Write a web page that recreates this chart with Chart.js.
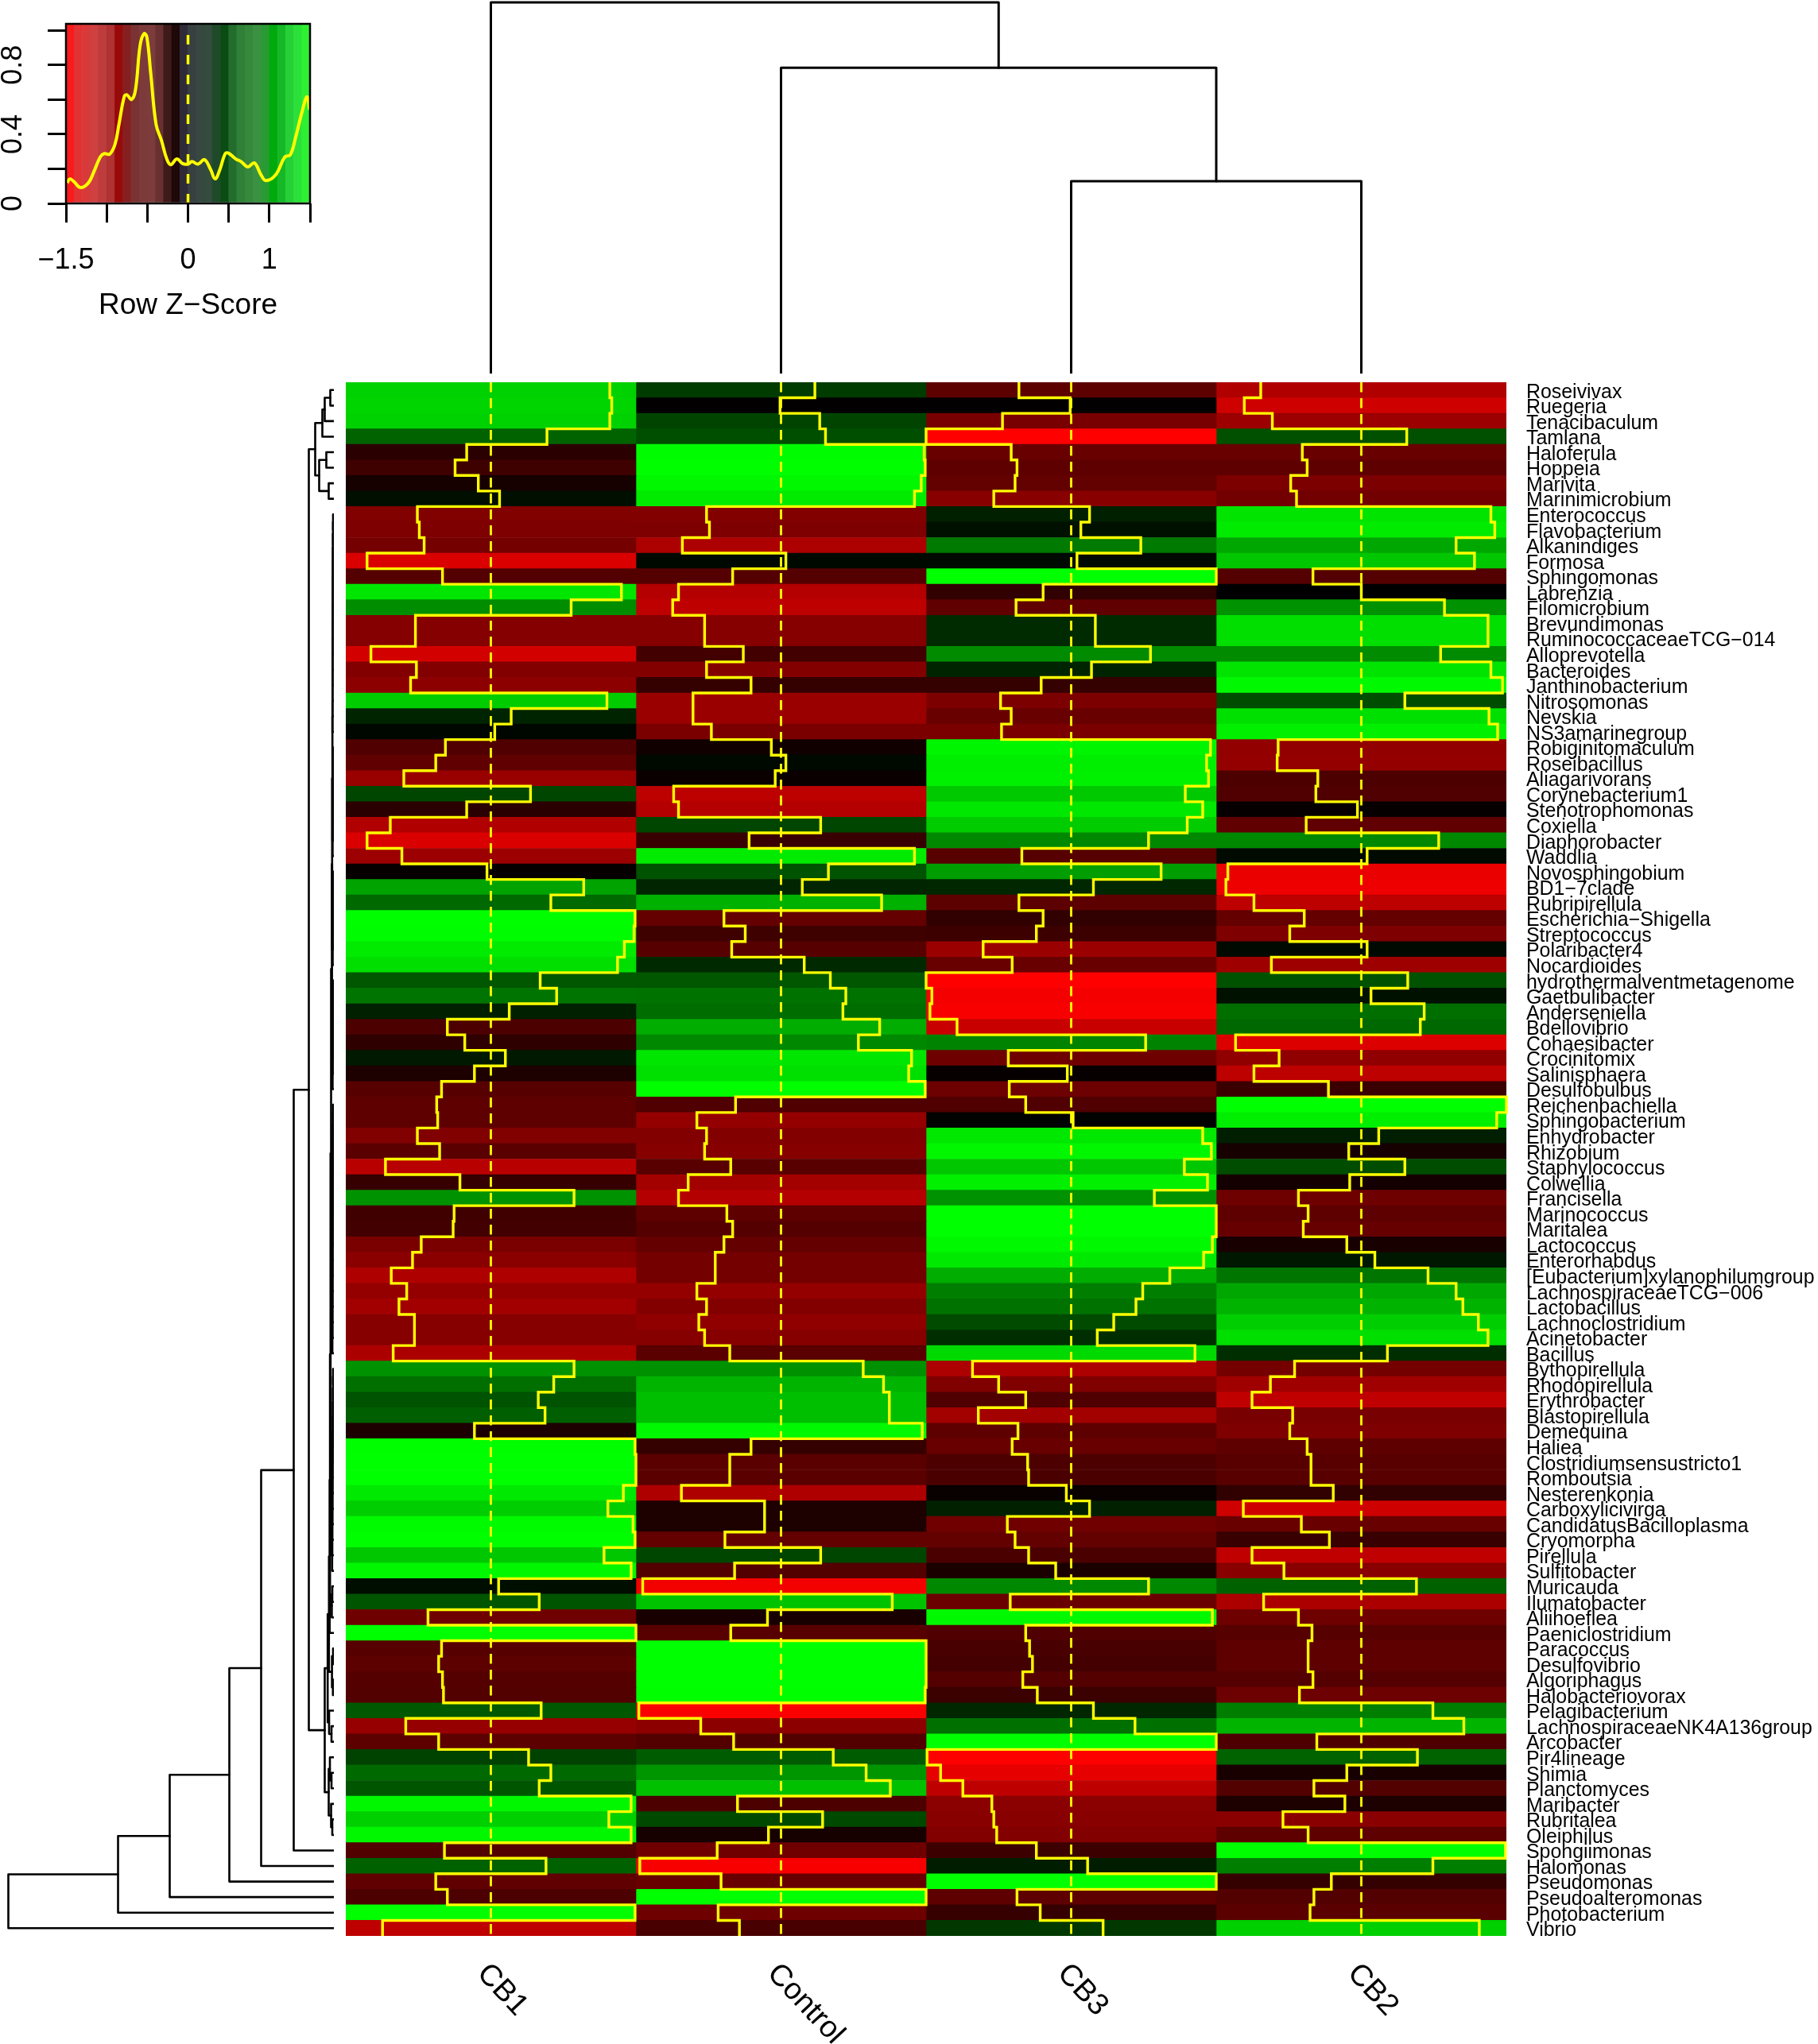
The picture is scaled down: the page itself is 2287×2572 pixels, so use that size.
<!DOCTYPE html>
<html>
<head>
<meta charset="utf-8">
<title>Heatmap</title>
<script src="https://cdn.jsdelivr.net/npm/chart.js@4"></script>
<style>
  html, body { margin:0; padding:0; background:#fff; }
  #page { position:relative; width:2287px; height:2572px; overflow:hidden; }
  canvas { position:absolute; display:block; }
</style>
</head>
<body>
<div id="page">
  <canvas id="keyChart"  width="450"  height="480"  style="left:0;top:0"></canvas>
  <canvas id="colDendro" width="1460" height="470"  style="left:435px;top:0"></canvas>
  <canvas id="rowDendro" width="420"  height="1955" style="left:0;top:481px"></canvas>
  <canvas id="heat"      width="1852" height="2111" style="left:435px;top:461px"></canvas>
</div>
<script>
const FONT = "'Liberation Sans', Arial, sans-serif";
const YELLOW = "#ffff00";

const colNames = ["CB1","Control","CB3","CB2"];

const rowNames = [
  "Roseivivax","Ruegeria","Tenacibaculum","Tamlana","Haloferula","Hoppeia","Marivita","Marinimicrobium","Enterococcus","Flavobacterium",
  "Alkanindiges","Formosa","Sphingomonas","Labrenzia","Filomicrobium","Brevundimonas","RuminococcaceaeTCG−014","Alloprevotella","Bacteroides","Janthinobacterium",
  "Nitrosomonas","Nevskia","NS3amarinegroup","Robiginitomaculum","Roseibacillus","Aliagarivorans","Corynebacterium1","Stenotrophomonas","Coxiella","Diaphorobacter",
  "Waddlia","Novosphingobium","BD1−7clade","Rubripirellula","Escherichia−Shigella","Streptococcus","Polaribacter4","Nocardioides","hydrothermalventmetagenome","Gaetbulibacter",
  "Anderseniella","Bdellovibrio","Cohaesibacter","Crocinitomix","Salinisphaera","Desulfobulbus","Reichenbachiella","Sphingobacterium","Enhydrobacter","Rhizobium",
  "Staphylococcus","Colwellia","Francisella","Marinococcus","Maritalea","Lactococcus","Enterorhabdus","[Eubacterium]xylanophilumgroup","LachnospiraceaeTCG−006","Lactobacillus",
  "Lachnoclostridium","Acinetobacter","Bacillus","Bythopirellula","Rhodopirellula","Erythrobacter","Blastopirellula","Demequina","Haliea","Clostridiumsensustricto1",
  "Romboutsia","Nesterenkonia","Carboxylicivirga","CandidatusBacilloplasma","Cryomorpha","Pirellula","Sulfitobacter","Muricauda","Ilumatobacter","Aliihoeflea",
  "Paeniclostridium","Paracoccus","Desulfovibrio","Algoriphagus","Halobacteriovorax","Pelagibacterium","LachnospiraceaeNK4A136group","Arcobacter","Pir4lineage","Shimia",
  "Planctomyces","Maribacter","Rubritalea","Oleiphilus","Spongiimonas","Halomonas","Pseudomonas","Pseudoalteromonas","Photobacterium","Vibrio"
];

// row z-scores
const zCB1 = [
  1.23,1.25,1.23,.58,-.25,-.37,-.13,.09,-.76,-.74,
  -.69,-1.28,-.50,1.35,.83,-.78,-.78,-1.24,-.77,-.83,
  1.20,.21,.04,-.47,-.57,-.90,.41,-.25,-1.04,-1.28,
  -.92,-.04,.96,.62,1.49,1.48,1.38,1.31,.51,.68,
  .19,-.45,-.27,.15,-.17,-.51,-.56,-.55,-.76,-.53,
  -1.09,-.32,.86,-.38,-.39,-.72,-.81,-1.03,-.87,-.95,
  -.79,-.79,-1.01,.86,.65,.49,.56,-.17,1.49,1.50,
  1.50,1.37,1.21,1.47,1.49,1.17,1.45,.08,.50,-.65,
  1.50,-.51,-.54,-.50,-.49,.52,-.88,-.54,.39,.62,
  .50,1.45,1.22,1.45,-.48,.57,-.57,-.45,1.49,-1.12
];
const zControl = [
  .35,-.01,.40,.46,1.48,1.49,1.45,1.38,-.77,-.74,
  -1.02,.05,-.50,-1.06,-1.12,-.79,-.79,-.39,-.77,-.31,
  -.91,-.91,-.72,-.10,.05,-.06,-1.11,-1.06,.41,-.33,
  1.38,.49,.22,1.04,-.59,-.37,-.51,.24,.51,.67,
  .64,1.02,.80,1.35,1.32,1.49,-.47,-.87,-.77,-.79,
  -.52,-.96,-1.06,-.56,-.50,-.59,-.68,-.68,-.87,-.77,
  -.85,-.79,-.53,.85,1.06,1.12,1.12,1.46,-.31,-.53,
  -.53,-1.03,-.17,-.17,-.58,.41,-.48,-1.43,1.15,-.14,
  -.52,1.50,1.50,1.50,1.49,-1.47,-.83,-.49,.54,.88,
  1.13,-.45,.43,-.13,-.66,-1.46,-.62,1.50,-.65,-.43
];
const zCB3 = [
  -.54,-.01,-.71,-1.50,-.62,-.56,-.58,-.80,.19,.10,
  .72,.06,1.50,-.29,-.57,.25,.25,.82,.21,-.31,
  -.73,-.62,-.72,1.44,1.40,1.42,1.18,1.36,1.20,.80,
  -.51,.93,.23,-.54,-.29,-.36,-.91,-.61,-1.50,-1.44,
  -1.46,-1.18,.77,-.65,-.04,-.64,-.47,.02,1.36,1.45,
  1.17,1.41,.86,1.50,1.50,1.46,1.37,1.02,.74,.67,
  .44,.27,1.28,-1.02,-.75,-.47,-.96,-.55,-.61,-.45,
  -.44,-.05,.19,-.66,-.58,-.44,-.16,.80,-.63,1.46,
  -.47,-.43,-.40,-.50,-.35,.23,.66,1.50,-1.49,-1.35,
  -1.12,-.82,-.80,-.77,-.36,.17,1.50,-.56,-.32,.33
];
const zCB2 = [
  -1.04,-1.21,-.92,.47,-.61,-.56,-.73,-.67,1.34,1.38,
  .98,1.17,-.50,.00,.86,1.31,1.31,.82,1.34,1.46,
  .45,1.32,1.41,-.86,-.87,-.45,-.47,-.04,-.57,.80,
  .06,-1.38,-1.40,-1.11,-.59,-.74,.06,-.93,.48,.10,
  .65,.61,-1.30,-.85,-1.11,-.34,1.50,1.40,.18,-.13,
  .45,-.12,-.65,-.55,-.60,-.15,.14,.69,.98,1.05,
  1.21,1.31,.27,-.69,-.94,-1.13,-.71,-.74,-.56,-.52,
  -.52,-.29,-1.22,-.62,-.33,-1.13,-.80,.57,-1.01,-.65,
  -.51,-.55,-.55,-.50,-.64,.74,1.06,-.46,.58,-.15,
  -.49,-.17,-.81,-.55,1.49,.74,-.31,-.49,-.53,1.22
];
const zColumns = [zCB1, zControl, zCB3, zCB2];

// dendrograms, hclust style: negative = leaf, positive = earlier merge (1-based), then height
const colMerge = [[-3,-4,241],[-2,1,383],[-1,2,465]];
const rowMerge = [
  [-1,-2,4.5],[1,-3,11.5],[2,-4,14.5],[-5,-6,9.5],[-7,-8,6.5],[4,5,18.5],[3,6,23.5],
  // 9-23
  [-9,-10,1],[8,-11,1.1],[9,-12,1.2],[10,-13,1.3],[11,-14,1.3],[12,-15,1.4],[13,-16,1.4],
  [14,-17,1.5],[15,-18,1.5],[16,-19,1.6],[17,-20,1.6],[18,-21,1.7],[19,-22,1.7],[20,-23,1.8],
  // 24-31
  [-24,-25,1],[22,-26,1.1],[23,-27,1.2],[24,-28,1.3],[25,-29,1.4],[26,-30,1.5],[27,-31,1.6],
  [21,28,2],
  // 32-38
  [-32,-33,1],[30,-34,1.1],[31,-35,1.2],[32,-36,1.3],[33,-37,1.4],[34,-38,1.5],
  [29,35,2.2],
  // 39-46
  [-39,-40,1],[37,-41,1.1],[38,-42,1.2],[39,-43,1.3],[40,-44,1.4],[41,-45,1.5],[42,-46,1.6],
  [36,43,2.5],
  // 47-63
  [-47,-48,1],[45,-49,1.1],[46,-50,1.2],[47,-51,1.3],[48,-52,1.3],[49,-53,1.4],[50,-54,1.4],[51,-55,1.5],
  [52,-56,1.5],[53,-57,1.6],[54,-58,1.6],[55,-59,1.7],[56,-60,1.7],[57,-61,1.8],[58,-62,1.8],[59,-63,1.9],
  [44,60,3.5],
  // 64-77
  [-64,-65,1],[62,-66,1.1],[63,-67,1.2],[64,-68,1.3],[65,-69,1.4],[66,-70,1.5],[67,-71,1.6],
  [68,-72,1.7],[69,-73,1.8],[70,-74,1.9],[71,-75,2],[72,-76,2.1],[73,-77,2.2],
  [61,74,4.2],
  // 78-88
  [-78,-79,2],[76,-80,2.6],[75,77,4.9],[78,-81,5.3],
  [-82,-83,1],[-84,-85,1.2],[80,81,2.4],[79,82,6.2],
  [-87,-88,3],[-86,84,6],[83,85,7.8],
  // 89-94
  [-90,-91,3],[-89,87,5],[-93,-94,2],[-92,89,3.5],[88,90,6.5],
  [86,91,11.5],[7,92,31.5],
  // outliers
  [93,-95,50.5],[94,-96,91.5],[95,-97,131.5],[96,-98,206.5],[97,-99,271.5],[98,-100,409.5]
];

// colour key
const keyYMax = 1.038;
const keyXTicks  = [-1.5,-1,-0.5,0,0.5,1,1.5];
const keyXLabels = ["−1.5","","","0","","1",""];
const keyYLabels = [0,0.4,0.8];
const keyBandColors = [
  "#f81a1c","#e23234","#d83a3a","#cf4040","#bd3c3c","#b03232","#980a0a","#862020","#7a3232","#7d3a3a",
  "#7c3c3c","#683030","#3f1a1a","#1e0808","#2e2a38","#373f40","#36483f","#334c3d","#1f4a2a","#0a4c14",
  "#246c2e","#308038","#36883c","#3a9240","#2a9a34","#00aa0c","#16b828","#26d036","#2ce03a","#2ef032"
];
const keyDensityX = [-1.485,-1.453,-1.404,-1.322,-1.224,-1.159,-1.077,-1.028,-.963,-.898,-.849,-.784,-.751,-.695,-.646,-.588,-.539,-.506,-.457,-.392,-.326,-.261,-.212,-.137,-.065,0,.049,.124,.202,.278,.333,.392,.457,.496,.588,.653,.735,.816,.898,.957,1.077,1.192,1.257,1.322,1.404,1.463,1.495];
const keyDensityY = [.119,.142,.127,.092,.119,.181,.270,.288,.285,.341,.456,.617,.628,.600,.655,.916,.982,.962,.747,.456,.364,.257,.224,.257,.230,.227,.242,.227,.253,.196,.142,.196,.288,.291,.257,.242,.211,.234,.165,.132,.165,.270,.280,.380,.533,.617,.541];

// ── helpers ───────────────────────────────────────────────────────────────────
function zColor(z) {
  const v = Math.round(Math.min(Math.abs(z) / 1.5, 1) * 255);
  return z < 0 ? `rgb(${v},0,0)` : `rgb(0,${v},0)`;
}

// one path per merge; toPoint(pos, h) turns leaf position and height into x/y
function dendroDatasets(merge, toPoint, width) {
  const nodes = [];
  const info = id => id < 0 ? { pos: -id - 0.5, h: 0 } : nodes[id - 1];
  return merge.map(([a, b, h]) => {
    const l = info(a), r = info(b);
    nodes.push({ pos: (l.pos + r.pos) / 2, h });
    return {
      data: [toPoint(l.pos, l.h), toPoint(l.pos, h), toPoint(r.pos, h), toPoint(r.pos, r.h)],
      showLine: true, pointRadius: 0, borderColor: "#000", borderWidth: width,
      borderCapStyle: "round", borderJoinStyle: "round", clip: false
    };
  });
}

Chart.defaults.font.family = FONT;
Chart.defaults.color = "#000";
Chart.defaults.animation = false;
Chart.defaults.responsive = false;
Chart.defaults.devicePixelRatio = 1;
Chart.defaults.plugins.legend.display = false;
Chart.defaults.plugins.tooltip.enabled = false;

const noPad = { autoPadding: false, padding: 0 };

// ── Column dendrogram ─────────────────────────────────────────────────────────
new Chart(document.getElementById("colDendro"), {
  type: "scatter",
  data: { datasets: dendroDatasets(colMerge, (pos, h) => ({ x: pos, y: h }), 3) },
  options: {
    layout: noPad,
    scales: {
      x: { type: "linear", min: 0, max: 4, display: false },
      y: { type: "linear", min: 0, max: 468, display: false }
    }
  }
});

// ── Row dendrogram ────────────────────────────────────────────────────────────
new Chart(document.getElementById("rowDendro"), {
  type: "scatter",
  data: { datasets: dendroDatasets(rowMerge, (pos, h) => ({ x: h, y: pos }), 2.6) },
  options: {
    layout: noPad,
    scales: {
      x: { type: "linear", min: 0, max: 420, reverse: true, display: false },
      y: { type: "linear", min: 0, max: 100, reverse: true, display: false }
    }
  }
});

// ── Heatmap ───────────────────────────────────────────────────────────────────
// floating horizontal bars: column c spans [c, c + 1] on the x scale
const cellSets = zColumns.map((zs, c) => ({
  type: "bar",
  indexAxis: "y",
  grouped: false,
  label: colNames[c],
  data: rowNames.map(() => [c, c + 1]),
  backgroundColor: zs.map(zColor),
  borderWidth: 0,
  barPercentage: 1,
  categoryPercentage: 1,
  xAxisID: "x",
  yAxisID: "y",
  order: 3
}));

const traceSets = zColumns.map((zs, c) => {
  const pts = [];
  zs.forEach((z, r) => {
    const x = c + 0.5 + z / 3;
    pts.push({ x, y: r }, { x, y: r + 1 });
  });
  return {
    type: "scatter", data: pts, showLine: true, pointRadius: 0,
    borderColor: YELLOW, borderWidth: 3.4, borderJoinStyle: "miter",
    xAxisID: "x", yAxisID: "yRow", clip: 6, order: 1
  };
});

const centreSets = colNames.map((_, c) => ({
  type: "scatter",
  data: [{ x: c + 0.5, y: 0 }, { x: c + 0.5, y: 100 }],
  showLine: true, pointRadius: 0,
  borderColor: YELLOW, borderWidth: 2.8, borderDash: [12.5, 7.5],
  xAxisID: "x", yAxisID: "yRow", order: 2
}));

const colLabels = {
  id: "colLabels",
  afterDraw(chart) {
    const { ctx, scales } = chart;
    ctx.save();
    ctx.fillStyle = "#000";
    ctx.font = `38px ${FONT}`;
    ctx.textAlign = "left";
    ctx.textBaseline = "middle";
    colNames.forEach((name, i) => {
      ctx.save();
      ctx.translate(scales.x.getPixelForValue(i + 0.5) - 11, scales.y.bottom + 41);
      ctx.rotate(47 * Math.PI / 180);
      ctx.fillText(name, 0, 0);
      ctx.restore();
    });
    ctx.restore();
  }
};

new Chart(document.getElementById("heat"), {
  type: "bar",
  data: { labels: rowNames, datasets: [...traceSets, ...centreSets, ...cellSets] },
  plugins: [colLabels],
  options: {
    indexAxis: "x",
    layout: { autoPadding: false, padding: { top: 20, bottom: 136 } },
    scales: {
      x: { type: "linear", axis: "x", min: 0, max: 4, offset: false, display: false },
      y: {
        type: "category", axis: "y", position: "right", offset: true,
        grid: { display: false, drawTicks: false },
        border: { display: false },
        ticks: { autoSkip: false, maxRotation: 0, minRotation: 0, padding: 25, labelOffset: 3, color: "#000", font: { size: 24.9 } },
        afterFit(scale) { scale.width = 392; scale.paddingTop = 0; scale.paddingBottom = 0; }
      },
      yRow: { type: "linear", axis: "y", min: 0, max: 100, reverse: true, display: false }
    }
  }
});

// ── Colour key ────────────────────────────────────────────────────────────────
const keyFrame = {
  id: "keyFrame",
  afterDraw(chart) {
    const { ctx, chartArea: a, scales } = chart;
    ctx.save();
    ctx.strokeStyle = "#000";
    ctx.lineWidth = 2.5;
    ctx.strokeRect(a.left, a.top, a.right - a.left, a.bottom - a.top);
    ctx.fillStyle = "#000";
    ctx.font = `36px ${FONT}`;
    ctx.textAlign = "center";
    ctx.textBaseline = "middle";
    keyYLabels.forEach(v => {
      ctx.save();
      ctx.translate(17, scales.y.getPixelForValue(v));
      ctx.rotate(-Math.PI / 2);
      ctx.fillText(String(v), 0, 0);
      ctx.restore();
    });
    ctx.font = `37px ${FONT}`;
    ctx.fillText("Row Z−Score", scales.x.getPixelForValue(0), 385);
    ctx.restore();
  }
};

new Chart(document.getElementById("keyChart"), {
  type: "bar",
  data: {
    datasets: [
      { type: "scatter", data: keyDensityX.map((x, i) => ({ x, y: keyDensityY[i] })), showLine: true, pointRadius: 0,
        borderColor: YELLOW, borderWidth: 4, tension: 0.4, order: 1 },
      { type: "scatter", data: [{ x: 0, y: 0 }, { x: 0, y: keyYMax }], showLine: true, pointRadius: 0,
        borderColor: YELLOW, borderWidth: 3.5, borderDash: [12, 13], order: 1 },
      { type: "bar", data: keyBandColors.map((_, i) => ({ x: -1.5 + (i + 0.5) * 3 / keyBandColors.length, y: keyYMax })),
        backgroundColor: keyBandColors, borderWidth: 0, barPercentage: 1, categoryPercentage: 1, order: 2 }
    ]
  },
  plugins: [keyFrame],
  options: {
    layout: { autoPadding: false, padding: { top: 30, right: 60 } },
    scales: {
      x: {
        type: "linear", min: -1.5, max: 1.5, offset: false,
        afterBuildTicks(scale) { scale.ticks = keyXTicks.map(value => ({ value })); },
        grid: { drawOnChartArea: false, tickLength: 24, color: "#000", lineWidth: 3, offset: false },
        border: { display: false },
        ticks: { autoSkip: false, maxRotation: 0, minRotation: 0, padding: 26, color: "#000", font: { size: 36 },
                 callback(v, i) { return keyXLabels[i]; } },
        afterFit(scale) { scale.height = 224; scale.paddingLeft = 0; scale.paddingRight = 0; }
      },
      y: {
        type: "linear", min: 0, max: keyYMax,
        grid: { drawOnChartArea: false, tickLength: 23, color: "#000", lineWidth: 3 },
        border: { display: false },
        ticks: { stepSize: 0.2, includeBounds: false, display: true, color: "rgba(0,0,0,0)", font: { size: 1 },
                 callback() { return ""; } },
        afterFit(scale) { scale.width = 83; scale.paddingTop = 0; scale.paddingBottom = 0; }
      }
    }
  }
});
</script>
</body>
</html>
